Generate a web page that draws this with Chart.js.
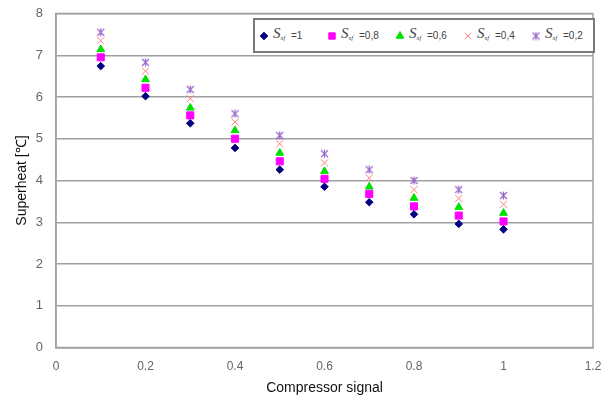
<!DOCTYPE html>
<html>
<head>
<meta charset="utf-8">
<script src="https://cdn.jsdelivr.net/npm/chart.js@4/dist/chart.umd.min.js"></script>
<style>
  html, body { margin: 0; padding: 0; background: #fff; }
  #wrap { position: relative; width: 610px; height: 403px; }
  #legendBox {
    position: absolute; left: 253px; top: 18px; width: 338px; height: 31px;
    border: 2px solid #7a7a7a; background: #fff;
    font-family: "Liberation Sans", Arial, sans-serif; color: #333;
  }
  .item { position: absolute; top: 0; height: 31px; }
  .item canvas { position: absolute; left: 0; top: 10px; }
  .item .s { position: absolute; left: 15px; top: 5px; font-style: italic; font-size: 15px; font-family: "Liberation Serif", serif; color: #444; }
  .item .s sub { font-size: 7px; font-style: italic; vertical-align: -2px; }
  .item .v { position: absolute; left: 33px; top: 10px; font-size: 10px; color: #444; }
</style>
</head>
<body>
<div id="wrap">
  <canvas id="chart" width="610" height="403"></canvas>
  <div id="legendBox"></div>
</div>
<script>
// 数据
var signal = [0.1, 0.2, 0.3, 0.4, 0.5, 0.6, 0.7, 0.8, 0.9, 1.0];
var sf1  = [6.74, 6.02, 5.37, 4.78, 4.26, 3.85, 3.48, 3.19, 2.96, 2.83];
var sf08 = [6.95, 6.22, 5.56, 5.00, 4.46, 4.04, 3.68, 3.38, 3.16, 3.02];
var sf06 = [7.14, 6.42, 5.74, 5.20, 4.66, 4.22, 3.85, 3.58, 3.36, 3.22];
var sf04 = [7.35, 6.62, 5.96, 5.40, 4.88, 4.42, 4.06, 3.78, 3.57, 3.43];
var sf02 = [7.55, 6.83, 6.18, 5.60, 5.08, 4.64, 4.26, 4.00, 3.78, 3.64];
var sfLabels = ["=1", "=0,8", "=0,6", "=0,4", "=0,2"];
var xTicks = [0, 0.2, 0.4, 0.6, 0.8, 1, 1.2];

// excel-like star marker: X plus vertical line
function starMarker(color) {
  var c = document.createElement("canvas");
  c.width = 9; c.height = 9;
  var g = c.getContext("2d");
  g.strokeStyle = color; g.lineWidth = 1.2;
  g.beginPath();
  g.moveTo(1, 1); g.lineTo(8, 8);
  g.moveTo(8, 1); g.lineTo(1, 8);
  g.moveTo(4.5, 0.5); g.lineTo(4.5, 8.5);
  g.stroke();
  return c;
}

function toPoints(ys) {
  return ys.map(function (y, i) { return { x: signal[i], y: y }; });
}

var series = [
  { data: sf1,  style: "rectRot",  color: "#000080", radius: 3.8 },
  { data: sf08, style: "rect",     color: "#ff00ff", radius: 5 },
  { data: sf06, style: "triangle", color: "#00e000", radius: 4.5 },
  { data: sf04, style: "crossRot", color: "#ff7f7f", radius: 5 },
  { data: sf02, style: starMarker("#9966cc"), color: "#9966cc", radius: 5 }
];

var datasets = [];
series.forEach(function (s, i) {
  datasets.push({
    label: "Ssf " + sfLabels[i],
    data: toPoints(s.data),
    pointStyle: s.style,
    pointRadius: s.radius,
    pointBackgroundColor: s.color,
    pointBorderColor: s.color,
    pointBorderWidth: 1,
    showLine: false
  });
});

var plotFrame = {
  id: "plotFrame",
  beforeDatasetsDraw: function (chart) {
    var a = chart.chartArea, ctx = chart.ctx;
    ctx.save();
    ctx.strokeStyle = "#a0a0a0";
    ctx.lineWidth = 1.5;
    ctx.strokeRect(a.left, a.top, a.right - a.left, a.bottom - a.top);
    ctx.restore();
  }
};

var chart = new Chart(document.getElementById("chart").getContext("2d"), {
  type: "scatter",
  data: { datasets: datasets },
  plugins: [plotFrame],
  options: {
    responsive: false,
    animation: false,
    layout: { padding: { left: 0, top: 13.5, right: 17, bottom: 0 } },
    plugins: { legend: { display: false }, tooltip: { enabled: false } },
    scales: {
      x: {
        type: "linear", min: 0, max: 1.2,
        afterBuildTicks: function (scale) { scale.ticks = xTicks.map(function (v) { return { value: v }; }); },
        afterFit: function (scale) { scale.height = 55.5; scale.paddingLeft = 0; scale.paddingRight = 0; },
        grid: { display: false, drawTicks: false },
        border: { color: "#a0a0a0", width: 1.5 },
        ticks: {
          padding: 12, color: "#666",
          font: { family: "Liberation Sans", size: 12 },
          callback: function (v) { return String(v); }
        },
        title: {
          display: true, text: "Compressor signal", color: "#111",
          font: { family: "Liberation Sans", size: 14 },
          padding: { top: 0, bottom: 6 }
        }
      },
      y: {
        min: 0, max: 8,
        afterFit: function (scale) { scale.width = 56; scale.paddingTop = 0; scale.paddingBottom = 0; },
        grid: { color: "#a0a0a0", lineWidth: 1.5, drawTicks: false },
        border: { color: "#a0a0a0", width: 1.5 },
        ticks: {
          stepSize: 1, padding: 13, color: "#666",
          font: { family: "Liberation Sans", size: 13 }
        },
        title: {
          display: true, text: "Superheat [℃]", color: "#111",
          font: { family: "Liberation Sans", size: 14 },
          padding: { top: 14, bottom: 0 }
        }
      }
    }
  }
});

// legend built from the datasets
var box = document.getElementById("legendBox");
chart.data.datasets.forEach(function (ds, i) {
  var item = document.createElement("div");
  item.className = "item";
  item.style.left = (3 + i * 68) + "px";
  var c = document.createElement("canvas");
  c.width = 12; c.height = 12;
  var g = c.getContext("2d");
  g.fillStyle = ds.pointBackgroundColor;
  g.strokeStyle = ds.pointBorderColor;
  g.lineWidth = 1;
  Chart.helpers.drawPoint(g, { pointStyle: ds.pointStyle, radius: Math.min(ds.pointRadius, 4.5), rotation: 0, borderWidth: 1 }, 6, 6);
  item.appendChild(c);
  var s = document.createElement("span");
  s.className = "s";
  s.innerHTML = "S<sub>sf</sub>";
  item.appendChild(s);
  var v = document.createElement("span");
  v.className = "v";
  v.textContent = sfLabels[i];
  item.appendChild(v);
  box.appendChild(item);
});
</script>
</body>
</html>
